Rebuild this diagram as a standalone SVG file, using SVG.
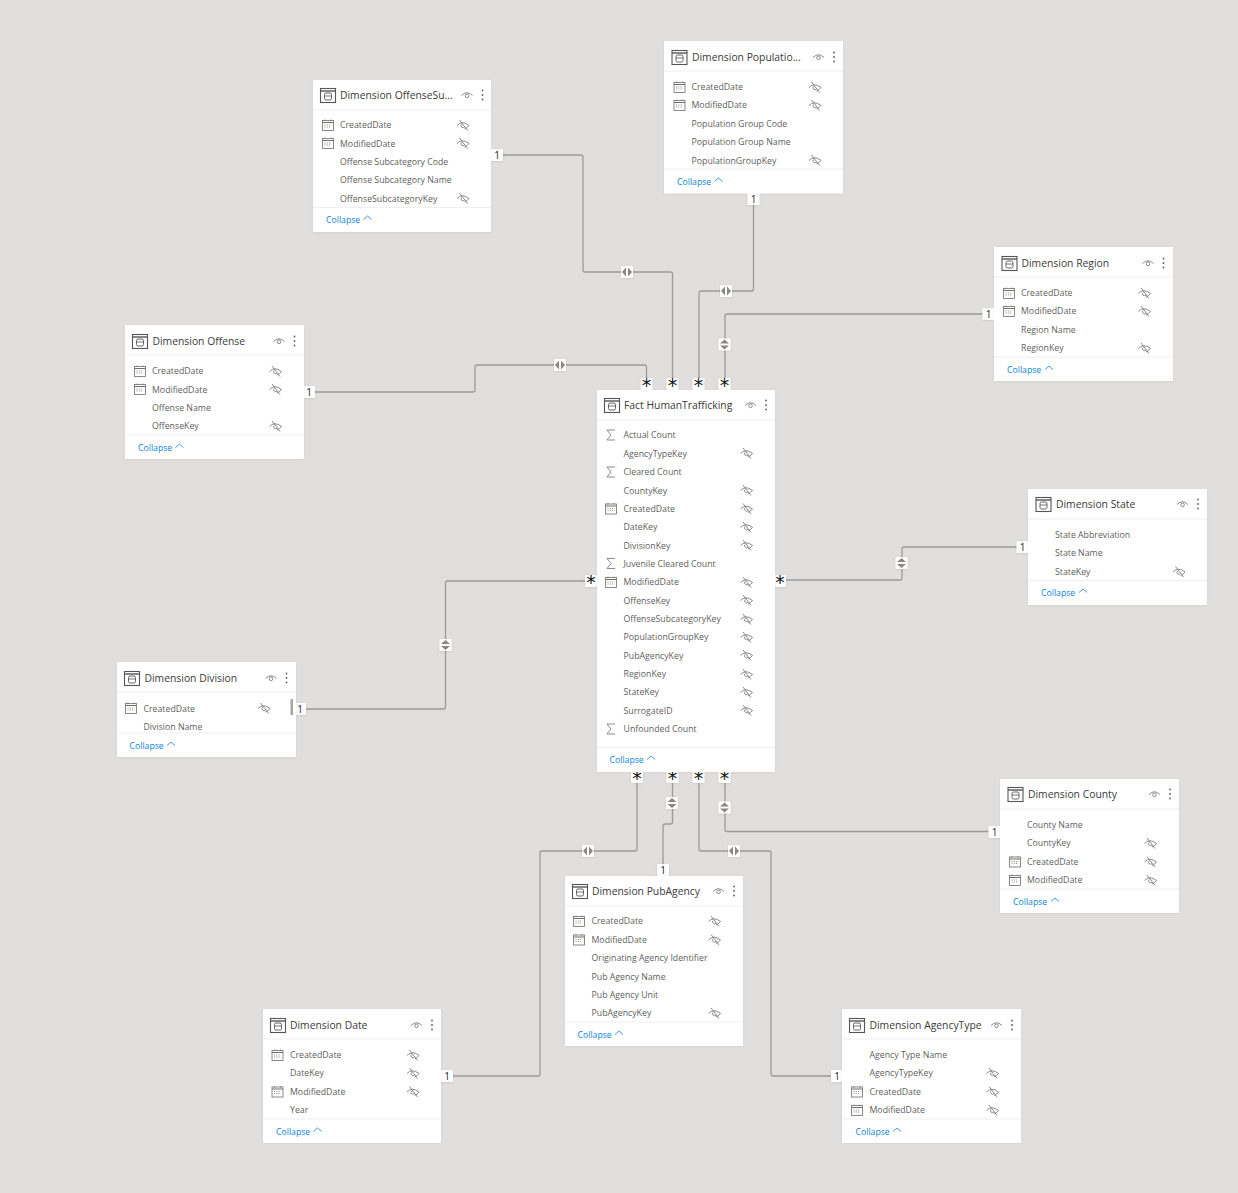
<svg xmlns="http://www.w3.org/2000/svg" width="1238" height="1193" viewBox="0 0 1238 1193">
<style>
text{font-family:"Open Sans","Liberation Sans",sans-serif}
.card{fill:#fff;filter:url(#sh)}
.sep{stroke:#f0efee;stroke-width:1;fill:none}
.t{font-size:10.35px;fill:#3b3a39}
.r{font-size:8.75px;fill:#605e5c}
.c{font-size:8.7px;fill:#0a84d8}
.i{fill:none;stroke:#6f6d6b;stroke-width:.8}
.conn{fill:none;stroke:#9c9b99;stroke-width:1.3}
.lb{fill:#fff;filter:url(#sh2)}
.n{font-size:10px;fill:#252423;text-anchor:middle}
.s{font-size:19px;fill:#111;text-anchor:middle;font-family:"DejaVu Sans",sans-serif}
.a{fill:#8a8886}
</style>
<defs>
<filter id="sh" x="-5%" y="-5%" width="110%" height="110%"><feDropShadow dx="0" dy="0.5" stdDeviation="1" flood-opacity=".08"/></filter>
<filter id="sh2" x="-20%" y="-20%" width="140%" height="140%"><feDropShadow dx="0" dy="0.5" stdDeviation=".8" flood-opacity=".12"/></filter>
<g id="tbl"><rect x="-7.5" y="-7" width="15" height="14" fill="none" stroke="#555" stroke-width="1.1"/><path d="M-7.5,-4.5H7.500" stroke="#555" stroke-width="1.4"/><rect x="-3.500" y="-2.500" width="7" height="7" rx="1.500" fill="none" stroke="#555" stroke-width=".9"/><path d="M-3.500,0.500H3.500" stroke="#555" stroke-width=".8"/></g>
<g id="eye"><path class="i" d="M-5.500,0.500Q0,-5 5.500,0.500"/><circle class="i" cx="0" cy="0.800" r="1.800"/></g>
<g id="dots" fill="#605e5c"><circle cx="0" cy="-4.500" r=".9"/><circle cx="0" cy="0" r=".9"/><circle cx="0" cy="4.500" r=".9"/></g>
<g id="hid"><path class="i" d="M-6,0.500Q-1,-5 6,0.500Q4,3 1.500,4"/><path class="i" d="M-1.500,-0.500A1.800,1.800 0 0 0 1.500,2"/><path class="i" d="M-3.500,-5L4.500,5.500"/></g>
<g id="cal"><rect class="i" x="-5.500" y="-4.500" width="11" height="10"/><path d="M-5.500,-2.500H5.500" stroke="#6f6d6b" stroke-width="1"/><path d="M-3,-5.500V-4M3,-5.500V-4" class="i"/><path d="M-3.500,0H3.500M-3.500,2H3.500" stroke="#6f6d6b" stroke-width=".8" stroke-dasharray="1 1.300" fill="none"/></g>
<path id="sig" class="i" d="M4,-5H-4L0,0L-4,5H4"/>
<path id="chev" d="M0,3.500L4,0L8,3.500" fill="none" stroke="#0a84d8" stroke-width=".8"/>
<g id="ah"><rect class="lb" x="-6" y="-6" width="12" height="12" rx="1"/><path class="a" d="M-1,-4.500V4.500L-5,0ZM1,-4.500V4.500L5,0Z"/></g>
<g id="av"><rect class="lb" x="-6" y="-6" width="12" height="12" rx="1"/><path class="a" d="M-4.500,-1H4.500L0,-5ZM-4.500,1H4.500L0,5Z"/></g>
<rect id="bx" class="lb" x="-6" y="-6" width="12" height="12" rx="1"/>
</defs>
<rect width="1238" height="1193" fill="#e1dfdd"/>
<g id="connectors">
<path class="conn" d="M491,155H581Q583,155 583,157V270Q583,272 585,272H670.500Q672.500,272 672.500,274V390"/>
<path class="conn" d="M753.500,194V289Q753.500,291 751.500,291H701Q699,291 699,293V390"/>
<path class="conn" d="M994,314H727Q725,314 725,316V390"/>
<path class="conn" d="M304,392H473Q475,392 475,390V367Q475,365 477,365H644.500Q646.500,365 646.500,367V390"/>
<path class="conn" d="M296,709H443.500Q445.500,709 445.500,707V583Q445.500,581 447.500,581H597"/>
<path class="conn" d="M1028,547H904Q902,547 902,549V578Q902,580 900,580H775"/>
<path class="conn" d="M1000,831.500H727Q725,831.500 725,829.500V772"/>
<path class="conn" d="M842,1076H773Q771,1076 771,1074V853Q771,851 769,851H701Q699,851 699,849V772"/>
<path class="conn" d="M663,876V826Q663,824 665,824H670.500Q672.500,824 672.500,822V772"/>
<path class="conn" d="M441,1076H538Q540,1076 540,1074V853Q540,851 542,851H635Q637,851 637,849V772"/>
<use href="#ah" x="627" y="272"/><use href="#ah" x="726" y="291"/><use href="#av" x="724.500" y="344.500"/><use href="#ah" x="560" y="365"/><use href="#av" x="445.500" y="645"/><use href="#av" x="901.500" y="563"/><use href="#av" x="724.500" y="807.500"/><use href="#ah" x="734" y="851"/><use href="#av" x="672" y="803"/><use href="#ah" x="588" y="851"/>
<use href="#bx" x="497" y="155"/><text class="n" x="497" y="159">1</text>
<use href="#bx" x="753.500" y="199"/><text class="n" x="753.500" y="203">1</text>
<use href="#bx" x="988.500" y="314"/><text class="n" x="988.500" y="318">1</text>
<use href="#bx" x="309" y="392"/><text class="n" x="309" y="396">1</text>
<use href="#bx" x="300" y="709"/><text class="n" x="300" y="713">1</text>
<use href="#bx" x="1022.500" y="547"/><text class="n" x="1022.500" y="551">1</text>
<use href="#bx" x="994.500" y="832"/><text class="n" x="994.500" y="836">1</text>
<use href="#bx" x="837" y="1076"/><text class="n" x="837" y="1080">1</text>
<use href="#bx" x="663" y="870"/><text class="n" x="663" y="874">1</text>
<use href="#bx" x="447" y="1076"/><text class="n" x="447" y="1080">1</text>
<use href="#bx" x="646.500" y="384"/><text class="s" x="646.500" y="392">*</text>
<use href="#bx" x="672.500" y="384"/><text class="s" x="672.500" y="392">*</text>
<use href="#bx" x="698.500" y="384"/><text class="s" x="698.500" y="392">*</text>
<use href="#bx" x="724.500" y="384"/><text class="s" x="724.500" y="392">*</text>
<use href="#bx" x="591" y="581"/><text class="s" x="591" y="589">*</text>
<use href="#bx" x="780" y="581"/><text class="s" x="780" y="589">*</text>
<use href="#bx" x="637" y="777"/><text class="s" x="637" y="785">*</text>
<use href="#bx" x="672.500" y="777"/><text class="s" x="672.500" y="785">*</text>
<use href="#bx" x="698.500" y="777"/><text class="s" x="698.500" y="785">*</text>
<use href="#bx" x="724.500" y="777"/><text class="s" x="724.500" y="785">*</text>
</g>
<g id="node-offensesub">
<rect class="card" x="313" y="80" width="178" height="152"/><path class="sep" d="M313,110H491M313,207.500H491"/>
<use href="#tbl" x="328" y="95.500"/><text class="t" x="340" y="99">Dimension OffenseSu...</text><use href="#eye" x="467" y="95"/><use href="#dots" x="482.500" y="95"/>
<use href="#cal" x="328" y="125"/><text class="r" x="340" y="128">CreatedDate</text><use href="#hid" x="463" y="125"/>
<use href="#cal" x="328" y="143"/><text class="r" x="340" y="147">ModifiedDate</text><use href="#hid" x="463" y="143"/>
<text class="r" x="340" y="165">Offense Subcategory Code</text>
<text class="r" x="340" y="183">Offense Subcategory Name</text>
<text class="r" x="340" y="202">OffenseSubcategoryKey</text><use href="#hid" x="463" y="198"/>
<text class="c" x="326" y="223">Collapse</text><use href="#chev" x="363.500" y="216"/>
</g>
<g id="node-population">
<rect class="card" x="664" y="41" width="179" height="152.500"/><path class="sep" d="M664,71H843M664,169H843"/>
<use href="#tbl" x="679.500" y="57.500"/><text class="t" x="692" y="61">Dimension Populatio...</text><use href="#eye" x="818.500" y="57"/><use href="#dots" x="834" y="57"/>
<use href="#cal" x="679.500" y="87"/><text class="r" x="691.500" y="90">CreatedDate</text><use href="#hid" x="815" y="87"/>
<use href="#cal" x="679.500" y="105"/><text class="r" x="691.500" y="108">ModifiedDate</text><use href="#hid" x="815" y="105"/>
<text class="r" x="691.500" y="127">Population Group Code</text>
<text class="r" x="691.500" y="145">Population Group Name</text>
<text class="r" x="691.500" y="164">PopulationGroupKey</text><use href="#hid" x="815" y="160"/>
<text class="c" x="677" y="185">Collapse</text><use href="#chev" x="714.500" y="178"/>
</g>
<g id="node-region">
<rect class="card" x="994" y="247" width="179" height="134"/><path class="sep" d="M994,277H1173M994,357H1173"/>
<use href="#tbl" x="1009.500" y="263.500"/><text class="t" x="1021.500" y="267">Dimension Region</text><use href="#eye" x="1148" y="263"/><use href="#dots" x="1163.500" y="263"/>
<use href="#cal" x="1009" y="293"/><text class="r" x="1021" y="296">CreatedDate</text><use href="#hid" x="1144.500" y="293"/>
<use href="#cal" x="1009" y="311"/><text class="r" x="1021" y="314">ModifiedDate</text><use href="#hid" x="1144.500" y="311"/>
<text class="r" x="1021" y="333">Region Name</text>
<text class="r" x="1021" y="351">RegionKey</text><use href="#hid" x="1144.500" y="348"/>
<text class="c" x="1007" y="373">Collapse</text><use href="#chev" x="1045" y="366"/>
</g>
<g id="node-offense">
<rect class="card" x="125" y="325" width="179" height="134"/><path class="sep" d="M125,355H304M125,435H304"/>
<use href="#tbl" x="140" y="341.500"/><text class="t" x="152.500" y="345">Dimension Offense</text><use href="#eye" x="279" y="341"/><use href="#dots" x="294.500" y="341"/>
<use href="#cal" x="140" y="371"/><text class="r" x="152" y="374">CreatedDate</text><use href="#hid" x="275.500" y="371"/>
<use href="#cal" x="140" y="389"/><text class="r" x="152" y="393">ModifiedDate</text><use href="#hid" x="275.500" y="389"/>
<text class="r" x="152" y="411">Offense Name</text>
<text class="r" x="152" y="429">OffenseKey</text><use href="#hid" x="275.500" y="426"/>
<text class="c" x="138" y="451">Collapse</text><use href="#chev" x="175.500" y="444"/>
</g>
<g id="node-division">
<rect class="card" x="117" y="662" width="179" height="95"/><path class="sep" d="M117,692H296M117,733H296"/>
<use href="#tbl" x="132" y="678.500"/><text class="t" x="144.500" y="682">Dimension Division</text><use href="#eye" x="271" y="678"/><use href="#dots" x="286.500" y="678"/>
<use href="#cal" x="131" y="708"/><text class="r" x="143.500" y="712">CreatedDate</text><use href="#hid" x="264" y="708"/>
<text class="r" x="143.500" y="730">Division Name</text>
<rect x="290.500" y="699" width="2.500" height="16" fill="#a8a6a4"/>
<text class="c" x="129.500" y="749">Collapse</text><use href="#chev" x="167" y="742"/>
</g>
<g id="node-state">
<rect class="card" x="1028" y="489" width="179" height="116"/><path class="sep" d="M1028,519H1207M1028,580.500H1207"/>
<use href="#tbl" x="1043.500" y="504.500"/><text class="t" x="1056" y="508">Dimension State</text><use href="#eye" x="1182.500" y="504"/><use href="#dots" x="1198" y="504"/>
<text class="r" x="1055" y="538">State Abbreviation</text>
<text class="r" x="1055" y="556">State Name</text>
<text class="r" x="1055" y="575">StateKey</text><use href="#hid" x="1179" y="571.500"/>
<text class="c" x="1041" y="596">Collapse</text><use href="#chev" x="1079" y="589"/>
</g>
<g id="node-fact">
<rect class="card" x="597" y="390" width="178" height="382"/><path class="sep" d="M597,420H775M597,747.500H775"/>
<use href="#tbl" x="612" y="405.500"/><text class="t" x="624" y="409">Fact HumanTrafficking</text><use href="#eye" x="750.500" y="405"/><use href="#dots" x="766" y="405"/>
<use href="#sig" x="611" y="435"/><text class="r" x="623.500" y="438">Actual Count</text>
<text class="r" x="623.500" y="457">AgencyTypeKey</text><use href="#hid" x="746.500" y="453"/>
<use href="#sig" x="611" y="472"/><text class="r" x="623.500" y="475">Cleared Count</text>
<text class="r" x="623.500" y="494">CountyKey</text><use href="#hid" x="746.500" y="490"/>
<use href="#cal" x="611" y="508.500"/><text class="r" x="623.500" y="512">CreatedDate</text><use href="#hid" x="746.500" y="508.500"/>
<text class="r" x="623.500" y="530">DateKey</text><use href="#hid" x="746.500" y="527"/>
<text class="r" x="623.500" y="549">DivisionKey</text><use href="#hid" x="746.500" y="545"/>
<use href="#sig" x="611" y="563.500"/><text class="r" x="623.500" y="567">Juvenile Cleared Count</text>
<use href="#cal" x="611" y="582"/><text class="r" x="623.500" y="585">ModifiedDate</text><use href="#hid" x="746.500" y="582"/>
<text class="r" x="623.500" y="604">OffenseKey</text><use href="#hid" x="746.500" y="600"/>
<text class="r" x="623.500" y="622">OffenseSubcategoryKey</text><use href="#hid" x="746.500" y="619"/>
<text class="r" x="623.500" y="640">PopulationGroupKey</text><use href="#hid" x="746.500" y="637"/>
<text class="r" x="623.500" y="659">PubAgencyKey</text><use href="#hid" x="746.500" y="655"/>
<text class="r" x="623.500" y="677">RegionKey</text><use href="#hid" x="746.500" y="674"/>
<text class="r" x="623.500" y="695">StateKey</text><use href="#hid" x="746.500" y="692"/>
<text class="r" x="623.500" y="714">SurrogateID</text><use href="#hid" x="746.500" y="710"/>
<use href="#sig" x="611" y="729"/><text class="r" x="623.500" y="732">Unfounded Count</text>
<text class="c" x="609.500" y="763">Collapse</text><use href="#chev" x="647" y="756"/>
</g>
<g id="node-county">
<rect class="card" x="1000" y="779" width="179" height="134"/><path class="sep" d="M1000,809H1179M1000,889H1179"/>
<use href="#tbl" x="1015.500" y="794.500"/><text class="t" x="1028" y="798">Dimension County</text><use href="#eye" x="1154.500" y="794"/><use href="#dots" x="1170" y="794"/>
<text class="r" x="1027" y="828">County Name</text>
<text class="r" x="1027" y="846">CountyKey</text><use href="#hid" x="1150.500" y="843"/>
<use href="#cal" x="1015" y="861.500"/><text class="r" x="1027" y="865">CreatedDate</text><use href="#hid" x="1150.500" y="861.500"/>
<use href="#cal" x="1015" y="880"/><text class="r" x="1027" y="883">ModifiedDate</text><use href="#hid" x="1150.500" y="880"/>
<text class="c" x="1013" y="905">Collapse</text><use href="#chev" x="1051" y="898"/>
</g>
<g id="node-pubagency">
<rect class="card" x="565" y="876" width="178" height="170"/><path class="sep" d="M565,906H743M565,1022H743"/>
<use href="#tbl" x="580" y="891.500"/><text class="t" x="592" y="895">Dimension PubAgency</text><use href="#eye" x="718.500" y="891"/><use href="#dots" x="734" y="891"/>
<use href="#cal" x="579" y="921"/><text class="r" x="591.500" y="924">CreatedDate</text><use href="#hid" x="714.500" y="921"/>
<use href="#cal" x="579" y="939.500"/><text class="r" x="591.500" y="943">ModifiedDate</text><use href="#hid" x="714.500" y="939.500"/>
<text class="r" x="591.500" y="961">Originating Agency Identifier</text>
<text class="r" x="591.500" y="980">Pub Agency Name</text>
<text class="r" x="591.500" y="998">Pub Agency Unit</text>
<text class="r" x="591.500" y="1016">PubAgencyKey</text><use href="#hid" x="714.500" y="1013"/>
<text class="c" x="577.500" y="1038">Collapse</text><use href="#chev" x="615" y="1031"/>
</g>
<g id="node-date">
<rect class="card" x="263" y="1009" width="178" height="134"/><path class="sep" d="M263,1039H441M263,1119H441"/>
<use href="#tbl" x="278" y="1025.500"/><text class="t" x="290" y="1029">Dimension Date</text><use href="#eye" x="416.500" y="1025"/><use href="#dots" x="432" y="1025"/>
<use href="#cal" x="277.500" y="1055"/><text class="r" x="290" y="1058">CreatedDate</text><use href="#hid" x="413" y="1055"/>
<text class="r" x="290" y="1076">DateKey</text><use href="#hid" x="413" y="1073"/>
<use href="#cal" x="277.500" y="1091.500"/><text class="r" x="290" y="1095">ModifiedDate</text><use href="#hid" x="413" y="1091.500"/>
<text class="r" x="290" y="1113">Year</text>
<text class="c" x="276" y="1135">Collapse</text><use href="#chev" x="313.500" y="1128"/>
</g>
<g id="node-agencytype">
<rect class="card" x="842" y="1009" width="179" height="134"/><path class="sep" d="M842,1039H1021M842,1119H1021"/>
<use href="#tbl" x="857" y="1025.500"/><text class="t" x="869.500" y="1029">Dimension AgencyType</text><use href="#eye" x="996.500" y="1025"/><use href="#dots" x="1012" y="1025"/>
<text class="r" x="869.500" y="1058">Agency Type Name</text>
<text class="r" x="869.500" y="1076">AgencyTypeKey</text><use href="#hid" x="992.500" y="1073"/>
<use href="#cal" x="857" y="1091.500"/><text class="r" x="869.500" y="1095">CreatedDate</text><use href="#hid" x="992.500" y="1091.500"/>
<use href="#cal" x="857" y="1110"/><text class="r" x="869.500" y="1113">ModifiedDate</text><use href="#hid" x="992.500" y="1110"/>
<text class="c" x="855.500" y="1135">Collapse</text><use href="#chev" x="893" y="1128"/>
</g>
</svg>
